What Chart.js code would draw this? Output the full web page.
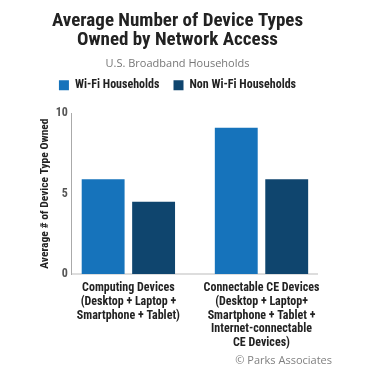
<!DOCTYPE html>
<html>
<head>
<meta charset="utf-8">
<script src="https://cdn.jsdelivr.net/npm/chart.js@4"></script>
<style>
  html, body { margin: 0; padding: 0; background: #fff; }
  #wrap { position: relative; width: 366px; height: 376px; }
  #credit {
    position: absolute; right: 34px; top: 352px;
    font: 11px 'Open Sans', sans-serif; color: #808080;
  }
</style>
</head>
<body>
<div id="wrap">
  <canvas id="myChart" width="366" height="376"></canvas>
  <div id="credit">© Parks Associates</div>
</div>
<script>
// données
const categories = [
    ['Computing Devices', '(Desktop + Laptop +', 'Smartphone + Tablet)'],
    ['Connectable CE Devices', '(Desktop + Laptop+', 'Smartphone + Tablet +', 'Internet-connectable', 'CE Devices)']
];
const wifi = [5.9, 9.1];
const nonWifi = [4.5, 5.9];
const yTicks = [0, 5, 10];

const condensed = "'Roboto Condensed', 'Open Sans', sans-serif";

const graph = document.getElementById('myChart');

// espace sous la légende
const legendMargin = {
    id: 'legendMargin',
    beforeInit(chart) {
        const fitValue = chart.legend.fit;
        chart.legend.fit = function fit() {
            fitValue.bind(chart.legend)();
            this.height += 12;
        };
    }
};

new Chart(graph, {
    type: 'bar',
    data: {
        datasets: [{
            label: 'Wi-Fi Households',
            data: wifi.map((v, i) => ({ x: i, y: v })),
            backgroundColor: '#1673bb'
        }, {
            label: 'Non Wi-Fi Households',
            data: nonWifi.map((v, i) => ({ x: i, y: v })),
            backgroundColor: '#0f456e'
        }]
    },
    options: {
        responsive: false,
        animation: false,
        layout: { padding: { left: 38, right: 49, top: 0, bottom: 19 } },
        datasets: {
            bar: { categoryPercentage: 0.758, barPercentage: 0.85 }
        },
        plugins: {
            title: {
                display: true,
                text: ['Average Number of Device Types', 'Owned by Network Access'],
                color: '#222',
                font: { family: condensed, size: 19, weight: 'bold', lineHeight: 1.0 },
                padding: { top: 12, bottom: 7 }
            },
            subtitle: {
                display: true,
                text: 'U.S. Broadband Households',
                color: '#777',
                font: { family: "'Open Sans', sans-serif", size: 11 },
                padding: { top: 0, bottom: -5 }
            },
            legend: {
                labels: {
                    boxWidth: 10,
                    boxHeight: 10,
                    padding: 14,
                    color: '#222',
                    font: { family: condensed, size: 12, weight: 'bold' }
                }
            },
            tooltip: { enabled: false }
        },
        scales: {
            x: {
                type: 'linear',
                offset: false,
                min: -0.424,
                max: 1.417,
                afterBuildTicks: axis => { axis.ticks = categories.map((c, i) => ({ value: i })); },
                grid: { display: false, drawTicks: false },
                border: { color: '#ddd', width: 2 },
                ticks: {
                    color: '#222',
                    maxRotation: 0,
                    autoSkip: false,
                    padding: 7,
                    callback: v => categories[v],
                    font: { family: condensed, size: 12, weight: 'bold', lineHeight: 1.15 }
                }
            },
            y: {
                min: 0,
                max: 10,
                afterBuildTicks: axis => { axis.ticks = yTicks.map(v => ({ value: v })); },
                grid: { display: false, drawTicks: false },
                border: { color: '#aaa', dash: [1, 2] },
                ticks: {
                    color: '#555',
                    padding: 4,
                    font: { family: condensed, size: 12, weight: 'bold' }
                },
                title: {
                    display: true,
                    text: 'Average # of Device Type Owned',
                    color: '#222',
                    padding: { top: 0, bottom: 0 },
                    font: { family: condensed, size: 11.5, weight: 'bold' }
                }
            }
        }
    },
    plugins: [legendMargin]
});
</script>
</body>
</html>
